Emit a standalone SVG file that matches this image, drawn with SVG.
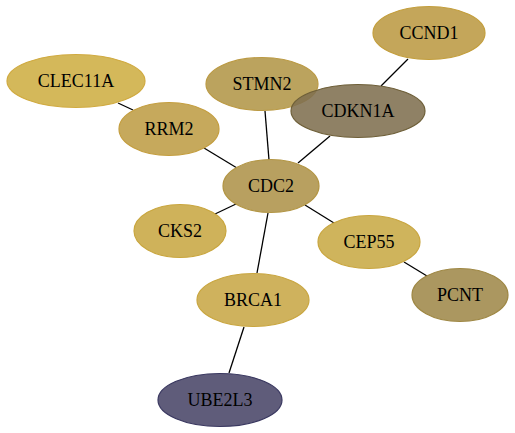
<svg xmlns="http://www.w3.org/2000/svg" width="515" height="433" viewBox="0 0 515 433">
<style>
.e{stroke:#000;stroke-width:1.3;fill:none}
.n ellipse{stroke-width:1.2}
.n text{font-family:'Liberation Serif','Times New Roman',Times,'DejaVu Serif',serif;font-size:18px;text-anchor:middle;fill:#000}
</style>
<rect width="515" height="433" fill="#fff"/>
<g id="edges">
<line class="e" x1="118" y1="103" x2="133" y2="110"/>
<line class="e" x1="204" y1="148" x2="237" y2="168"/>
<line class="e" x1="265" y1="111" x2="269" y2="160"/>
<line class="e" x1="330" y1="136" x2="298" y2="163"/>
<line class="e" x1="408" y1="59" x2="381" y2="86"/>
<line class="e" x1="236" y1="204" x2="215" y2="214"/>
<line class="e" x1="268" y1="213" x2="257" y2="273"/>
<line class="e" x1="305" y1="205" x2="334" y2="223"/>
<line class="e" x1="404" y1="262" x2="427" y2="276"/>
<line class="e" x1="244" y1="327" x2="229" y2="373"/>
</g>
<g id="CCND1" class="n"><ellipse cx="429" cy="33" rx="56" ry="26.5" fill="#c4a65a" stroke="#c39e3c"/><text x="429" y="38.5" font-family="Liberation Serif, serif">CCND1</text></g>
<g id="CLEC11A" class="n"><ellipse cx="76" cy="81" rx="69" ry="26.5" fill="#d4b85a" stroke="#d0aa40"/><text x="76" y="86.5" font-family="Liberation Serif, serif">CLEC11A</text></g>
<g id="STMN2" class="n"><ellipse cx="262" cy="84" rx="56" ry="26.5" fill="#bba35e" stroke="#bb9a44"/><text x="262" y="89.5" font-family="Liberation Serif, serif">STMN2</text></g>
<g id="CDKN1A" class="n"><ellipse cx="358" cy="111" rx="67" ry="26.5" fill="#807050" fill-opacity="0.88" stroke="#6e5f38"/><text x="358" y="116.5" font-family="Liberation Serif, serif">CDKN1A</text></g>
<g id="RRM2" class="n"><ellipse cx="169" cy="129" rx="50" ry="26.5" fill="#c6a95c" stroke="#c49e3f"/><text x="169" y="134.5" font-family="Liberation Serif, serif">RRM2</text></g>
<g id="CDC2" class="n"><ellipse cx="271" cy="186" rx="48" ry="26.5" fill="#b8a060" stroke="#b39645"/><text x="271" y="191.5" font-family="Liberation Serif, serif">CDC2</text></g>
<g id="CKS2" class="n"><ellipse cx="180" cy="231" rx="46" ry="26.5" fill="#cfb25a" stroke="#c9a63e"/><text x="180" y="236.5" font-family="Liberation Serif, serif">CKS2</text></g>
<g id="CEP55" class="n"><ellipse cx="369" cy="242" rx="51" ry="26.5" fill="#cfb45c" stroke="#c9a640"/><text x="369" y="247.5" font-family="Liberation Serif, serif">CEP55</text></g>
<g id="PCNT" class="n"><ellipse cx="460" cy="295" rx="48" ry="26.5" fill="#ab9760" stroke="#9f8845"/><text x="460" y="300.5" font-family="Liberation Serif, serif">PCNT</text></g>
<g id="BRCA1" class="n"><ellipse cx="253" cy="300" rx="56" ry="26.5" fill="#cfb25d" stroke="#c9a640"/><text x="253" y="305.5" font-family="Liberation Serif, serif">BRCA1</text></g>
<g id="UBE2L3" class="n"><ellipse cx="220" cy="400" rx="62" ry="26.5" fill="#5f5c7a" stroke="#3a3860"/><text x="220" y="405.5" font-family="Liberation Serif, serif">UBE2L3</text></g>
</svg>
